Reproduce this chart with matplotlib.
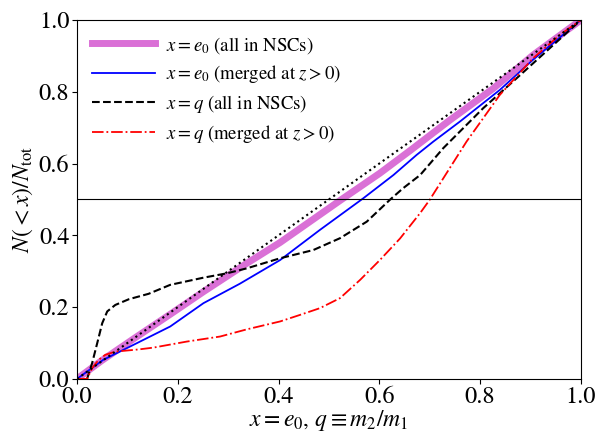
import matplotlib
matplotlib.use("Agg")
import matplotlib.pyplot as plt

plt.rcParams['font.family'] = 'STIXGeneral'
plt.rcParams['mathtext.fontset'] = 'stix'

# cumulative fraction N(<x)/N_tot for each population
e0_all_x = [0.0, 0.05, 0.118, 0.185, 0.251, 0.337, 0.403, 0.522, 0.601, 0.661,
            0.740, 0.826, 0.905, 1.0]
e0_all_y = [0.0, 0.052, 0.117, 0.180, 0.243, 0.322, 0.380, 0.497, 0.573, 0.636,
            0.721, 0.809, 0.902, 1.0]

e0_mrg_x = [0.0, 0.052, 0.118, 0.185, 0.251, 0.323, 0.403, 0.482, 0.568, 0.628,
            0.674, 0.707, 0.760, 0.839, 0.905, 0.952, 1.0]
e0_mrg_y = [0.0, 0.053, 0.099, 0.146, 0.211, 0.265, 0.331, 0.415, 0.503, 0.568,
            0.624, 0.661, 0.717, 0.805, 0.889, 0.944, 1.0]

q_all_x = [0.02, 0.030, 0.040, 0.050, 0.060, 0.076, 0.103, 0.142, 0.185, 0.251,
           0.297, 0.337, 0.403, 0.469, 0.522, 0.575, 0.621, 0.647, 0.681, 0.727,
           0.806, 0.872, 0.938, 1.0]
q_all_y = [0.0, 0.044, 0.099, 0.155, 0.188, 0.206, 0.222, 0.237, 0.262, 0.282,
           0.294, 0.308, 0.336, 0.359, 0.392, 0.438, 0.499, 0.531, 0.568, 0.643,
           0.754, 0.837, 0.921, 1.0]

q_mrg_x = [0.0, 0.02, 0.030, 0.043, 0.056, 0.076, 0.122, 0.151, 0.218, 0.284,
           0.337, 0.403, 0.442, 0.482, 0.522, 0.562, 0.601, 0.641, 0.681, 0.700,
           0.773, 0.839, 0.905, 0.958, 1.0]
q_mrg_y = [0.0, 0.0, 0.030, 0.053, 0.067, 0.076, 0.082, 0.087, 0.104, 0.118,
           0.138, 0.160, 0.178, 0.197, 0.225, 0.276, 0.331, 0.391, 0.462, 0.499,
           0.661, 0.791, 0.893, 0.958, 1.0]

fig = plt.figure(figsize=(5.97, 4.34), dpi=100)
ax = fig.add_axes([0.129, 0.127, 0.844, 0.827])

ax.plot(e0_all_x, e0_all_y, color='orchid', lw=5, label=r'$x=e_0$ (all in NSCs)')
ax.plot(e0_mrg_x, e0_mrg_y, color='blue', lw=1.3, label=r'$x=e_0$ (merged at $z>0$)')
ax.plot(q_all_x, q_all_y, color='black', ls='--', lw=1.5, label=r'$x=q$ (all in NSCs)')
ax.plot(q_mrg_x, q_mrg_y, color='red', ls='-.', lw=1.3, label=r'$x=q$ (merged at $z>0$)')

# uniform distribution and median
ax.plot([0, 1], [0, 1], color='black', ls=':', lw=1.5)
ax.axhline(0.5, color='black', lw=0.8)

ax.set_xlim(0, 1)
ax.set_ylim(0, 1)
ax.tick_params(labelsize=17.5, pad=2)
ax.set_xlabel(r'$x=e_0$, $q\equiv m_2/m_1$', fontsize=17, labelpad=0)
ax.set_ylabel(r'$N(<x)/N_{\rm tot}$', fontsize=17, labelpad=3)

ax.legend(loc='upper left', frameon=False, fontsize=13.5, handlelength=3.36,
          handletextpad=0.62, labelspacing=0.41, borderaxespad=0.4, borderpad=0.38)

fig.savefig('out.png', dpi=100)
